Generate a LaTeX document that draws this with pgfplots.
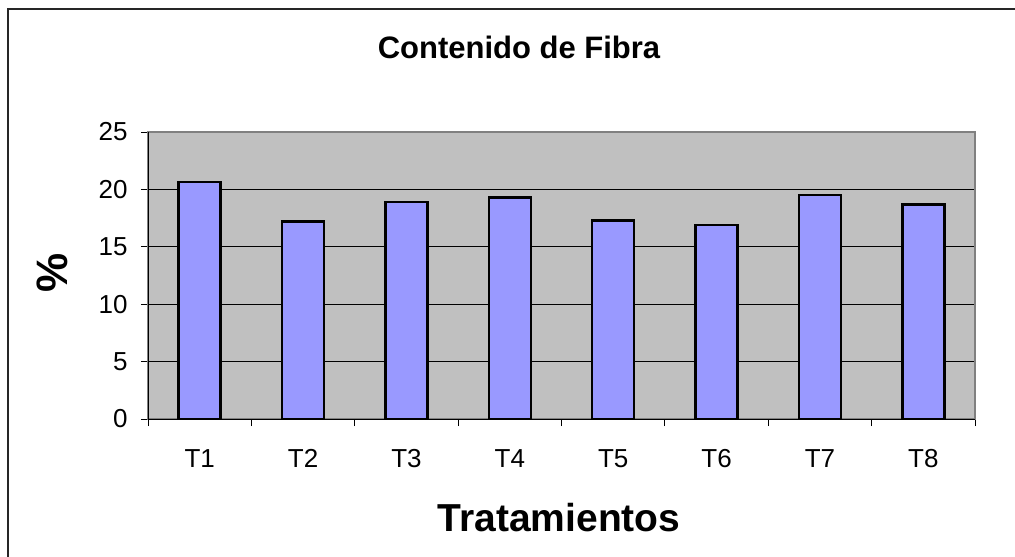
\documentclass[border=0pt]{standalone}
\usepackage{pgfplots}
\pgfplotsset{compat=1.18}
\usepackage{fontspec}
\setmainfont{Liberation Sans}
\definecolor{plotbg}{HTML}{C0C0C0}
\definecolor{barfill}{HTML}{9999FF}
\definecolor{frame}{HTML}{808080}
\begin{document}
\begin{tikzpicture}[x=1pt,y=1pt]
\useasboundingbox (0,0) rectangle (1015,-557);
\draw[line width=1.6pt,draw=black!85] (8,-557) -- (8,-9) -- (1015,-9);
\begin{axis}[
  at={(148pt,-419pt)}, anchor=south west,
  scale only axis, width=827pt, height=287pt,
  xmin=0.5, xmax=8.5, ymin=0, ymax=25,
  axis background/.style={fill=plotbg},
  axis line style={draw=frame, line width=1.2pt},
  xtick pos=bottom, ytick pos=left,
  xtick={0.5,1.5,...,8.5},
  x tick label as interval,
  xticklabels={T1,T2,T3,T4,T5,T6,T7,T8},
  ytick={0,5,...,25},
  ymajorgrids, grid style={draw=black, line width=0.8pt},
  major tick style={draw=black, line width=0.8pt},
  major tick length=7pt, tick align=outside,
  tick label style={font=\fontsize{26}{30}\selectfont},
  /pgf/number format/assume math mode=true,
  xticklabel style={text height=19pt, text depth=0pt, yshift=-19pt},
  yticklabel style={xshift=-10pt},
  ybar, bar width=42pt,
  clip=false,
]
\addplot[fill=barfill, draw=black, line width=2.6pt] coordinates {
(1,20.65) (2,17.2) (3,18.9) (4,19.3) (5,17.3) (6,16.9) (7,19.5) (8,18.7)};
\draw[black, line width=1pt] (rel axis cs:0,1) -- (rel axis cs:0,0) -- (rel axis cs:1,0);
\end{axis}
\node[anchor=base, font=\bfseries\fontsize{31}{36}\selectfont] at (519,-58) {Contenido de Fibra};
\node[anchor=base, font=\bfseries\fontsize{39}{44}\selectfont] at (559,-531) {Tratamientos};
\node[rotate=90, font=\bfseries\fontsize{44}{50}\selectfont] at (52,-273) {\%};
\end{tikzpicture}
\end{document}
